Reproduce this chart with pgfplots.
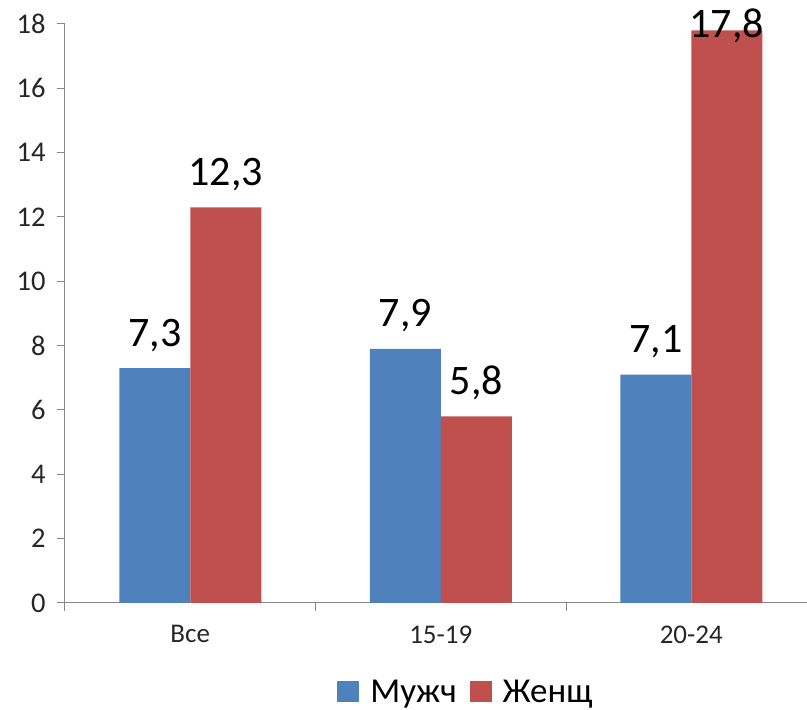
\documentclass[border=0pt]{standalone}
\usepackage{pgfplots}
\pgfplotsset{compat=1.18}
\usepackage{fontspec}
\setmainfont{Carlito}
\definecolor{xlblue}{HTML}{4F81BD}
\definecolor{xlred}{HTML}{C0504D}
\definecolor{axgray}{HTML}{878787}
\begin{document}
\begin{tikzpicture}[x=1pt,y=1pt]
\begin{axis}[
  at={(65pt,107pt)}, anchor=south west,
  scale only axis, width=742pt, height=579pt,
  xmin=-0.5, xmax=2.462, ymin=0, ymax=18,
  axis x line*=bottom, axis y line*=left,
  axis line style={axgray, line width=1pt},
  ybar=0pt, bar width=71pt,
  xtick={0,1,2}, xticklabels={Все,15-19,20-24},
  minor xtick={-0.5,0.5,1.5,2.5},
  ytick={0,2,...,18},
  tick align=outside,
  major tick length=8pt, minor tick length=8pt,
  major x tick style={draw=none},
  minor x tick style={axgray, line width=1pt},
  major y tick style={axgray, line width=1pt},
  /pgf/number format/assume math mode=true,
  tick label style={font=\fontsize{27}{30}\selectfont, text=black!85},
  yticklabel style={font=\fontsize{28.5}{30}\selectfont, xshift=-8pt},
  xticklabel style={yshift=-11pt},
  legend style={at={(0.539,-0.153)}, anchor=center, draw=none, fill=none,
    legend columns=2, font=\fontsize{35}{38}\selectfont,
    /tikz/every even column/.append style={column sep=13pt},
    inner sep=0pt, nodes={inner sep=0pt}},
  legend image code/.code={\fill[#1] (0pt,-10pt) rectangle (22pt,11pt); \path (33pt,0pt);},
  visualization depends on={y \as \ry},
  nodes near coords={\pgfmathprintnumber[use comma,fixed,fixed zerofill,precision=1]{\pgfplotspointmeta}},
  nodes near coords style={font=\fontsize{42}{46}\selectfont, text=black, anchor=base, inner sep=0pt,
    yshift={ifthenelse(\ry>17,-7,22)}},
]
\addplot[fill=xlblue, draw=none] coordinates {(0,7.3) (1,7.9) (2,7.1)};
\addplot[fill=xlred, draw=none] coordinates {(0,12.3) (1,5.8) (2,17.8)};
\legend{Мужч,Женщ}
\end{axis}
\pgfresetboundingbox
\useasboundingbox (0,0) rectangle (807,710);
\end{tikzpicture}
\end{document}
